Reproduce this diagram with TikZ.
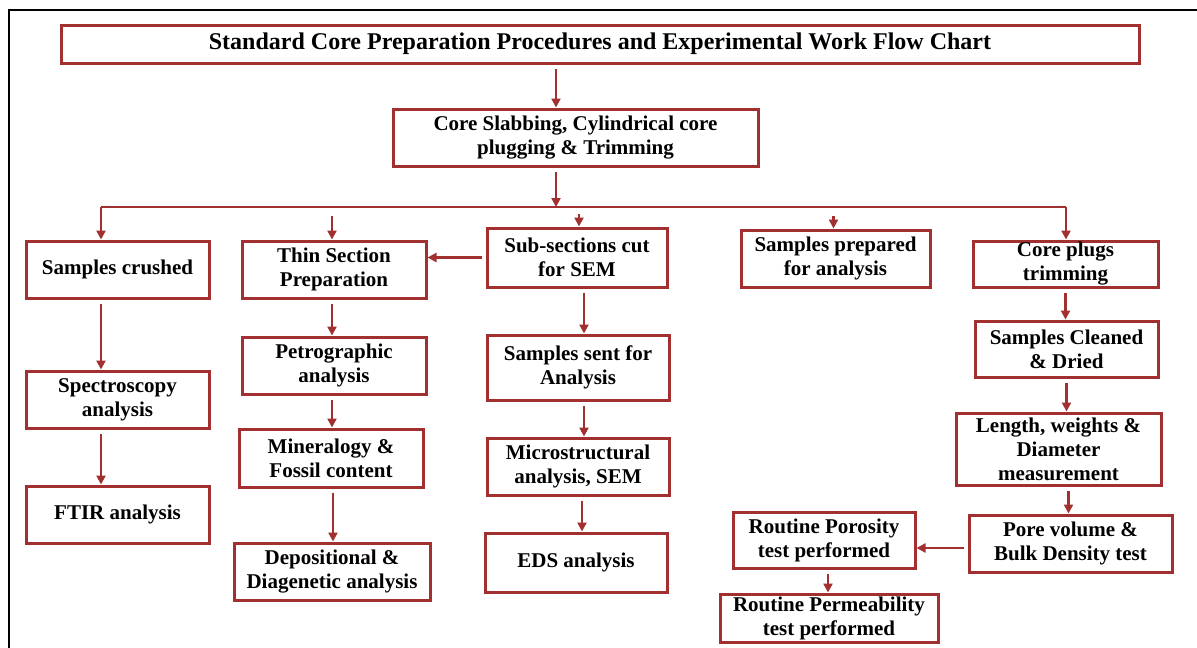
\documentclass[tikz,border=0pt]{standalone}
\usepackage{fontspec}
\setmainfont{Liberation Serif}
\usetikzlibrary{arrows.meta}

\definecolor{chartred}{RGB}{163,48,48}

\tikzset{
  box/.style={draw=chartred, line width=3pt, inner sep=0pt, align=center,
    font=\fontsize{21}{24}\selectfont\bfseries},
  arr/.style={draw=chartred, line width=2.4pt, shorten <=4pt,
    -{Triangle[length=9pt,width=9pt]}},
  bus/.style={draw=chartred, line width=2.4pt}
}

\begin{document}
\begin{tikzpicture}[x=1pt, y=-1pt]

\useasboundingbox[fill=white] (0,0) rectangle (1197,648);

% frame
\draw[line width=2.2pt] (9,648) -- (9,10) -- (1197,10);

%Top
\node[box, minimum width=1078, minimum height=38, font=\fontsize{24}{28}\selectfont\bfseries]
  (title) at (600,44)
  {Standard Core Preparation Procedures and Experimental Work Flow Chart};
\node[box, minimum width=365, minimum height=57] (core) at (575.5,137.5)
  {Core Slabbing, Cylindrical core\\plugging \& Trimming};

%First row
\node[box, minimum width=183, minimum height=57] (crushed) at (117.5,269.5) {Samples crushed};
\node[box, minimum width=184, minimum height=57] (thin) at (334,269.5) {Thin Section\\Preparation};
\node[box, minimum width=180, minimum height=59] (subsec) at (577,257.5) {Sub-sections cut\\for SEM};
\node[box, minimum width=189, minimum height=57] (prep) at (835.5,258.5) {Samples prepared\\for analysis};
\node[box, minimum width=185, minimum height=46] (plugs) at (1065.5,264) {Core plugs\\trimming};

%Columns
\node[box, minimum width=183, minimum height=57] (spectro) at (117.5,399.5) {Spectroscopy\\analysis};
\node[box, minimum width=183, minimum height=57] (ftir) at (117.5,514.5) {FTIR analysis};

\node[box, minimum width=184, minimum height=57] (petro) at (334,365.5) {Petrographic\\analysis};
\node[box, minimum width=184, minimum height=58] (minera) at (331,458) {Mineralogy \&\\Fossil content};
\node[box, minimum width=196, minimum height=57] (depo) at (332,571.5) {Depositional \&\\Diagenetic analysis};

\node[box, minimum width=182, minimum height=65] (sent) at (578,367.5) {Samples sent for\\Analysis};
\node[box, minimum width=182, minimum height=57] (micro) at (578,466.5) {Microstructural\\analysis, SEM};
\node[box, minimum width=182, minimum height=59] (eds) at (576,562.5) {EDS analysis};

\node[box, minimum width=183, minimum height=56] (clean) at (1066.5,349) {Samples Cleaned\\\& Dried};
\node[box, minimum width=205, minimum height=72] (length) at (1058.5,449) {Length, weights \&\\Diameter\\measurement};
\node[box, minimum width=203, minimum height=57] (pore) at (1070.5,543.5) {Pore volume \&\\Bulk Density test};
\node[box, minimum width=182, minimum height=56] (poro) at (824,540) {Routine Porosity\\test performed};
\node[box, minimum width=218, minimum height=48] (perm) at (829,618) {Routine Permeability\\test performed};

%Bus
\coordinate (spine) at (556,207);
\coordinate (busL) at (101,207);
\coordinate (busR) at (1066,207);
\draw[bus] (busL) -- (busR);
\draw[arr] (title.south -| spine) -- (core.north -| spine);
\draw[arr] (core.south -| spine) -- (spine);
\draw[arr, shorten <=0pt] (busL) -- (crushed.north -| busL);
\draw[arr, shorten <=0pt] (busR) -- (plugs.north -| busR);
\draw[arr] ([xshift=-2pt,yshift=-5pt]busL -| thin.north) -- ([xshift=-2pt]thin.north);
\draw[arr] ([xshift=2pt,yshift=-3pt]busL -| subsec.north) -- ([xshift=2pt]subsec.north);
\draw[arr] ([xshift=-2pt,yshift=-5pt]busL -| prep.north) -- ([xshift=-2pt]prep.north);

%Arrows
\draw[arr] (crushed.south -| busL) -- (spectro.north -| busL);
\draw[arr] (spectro.south -| busL) -- (ftir.north -| busL);

\draw[arr] ([xshift=-2pt]thin.south) -- ([xshift=-2pt]petro.north);
\draw[arr] ([xshift=-2pt]petro.south) -- ([xshift=-2pt]petro.south |- minera.north);
\draw[arr] ([xshift=2pt]minera.south) -- ([xshift=2pt]minera.south |- depo.north);

\draw[arr] ([xshift=7pt]subsec.south) -- ([xshift=7pt]subsec.south |- sent.north);
\draw[arr] ([xshift=6pt]sent.south) -- ([xshift=6pt]micro.north);
\draw[arr] ([xshift=4pt]micro.south) -- ([xshift=4pt]micro.south |- eds.north);
\draw[arr] (subsec.west) -- (subsec.west -| thin.east);

\draw[arr] (plugs.south) -- (plugs.south |- clean.north);
\draw[arr] (clean.south) -- (clean.south |- length.north);
\draw[arr] ([xshift=10pt]length.south) -- ([xshift=10pt]length.south |- pore.north);
\draw[arr] ([yshift=-4.5pt]pore.west) -- ([yshift=-4.5pt]pore.west -| poro.east);
\draw[arr] ([xshift=4pt]poro.south) -- ([xshift=4pt]poro.south |- perm.north);

\end{tikzpicture}
\end{document}
